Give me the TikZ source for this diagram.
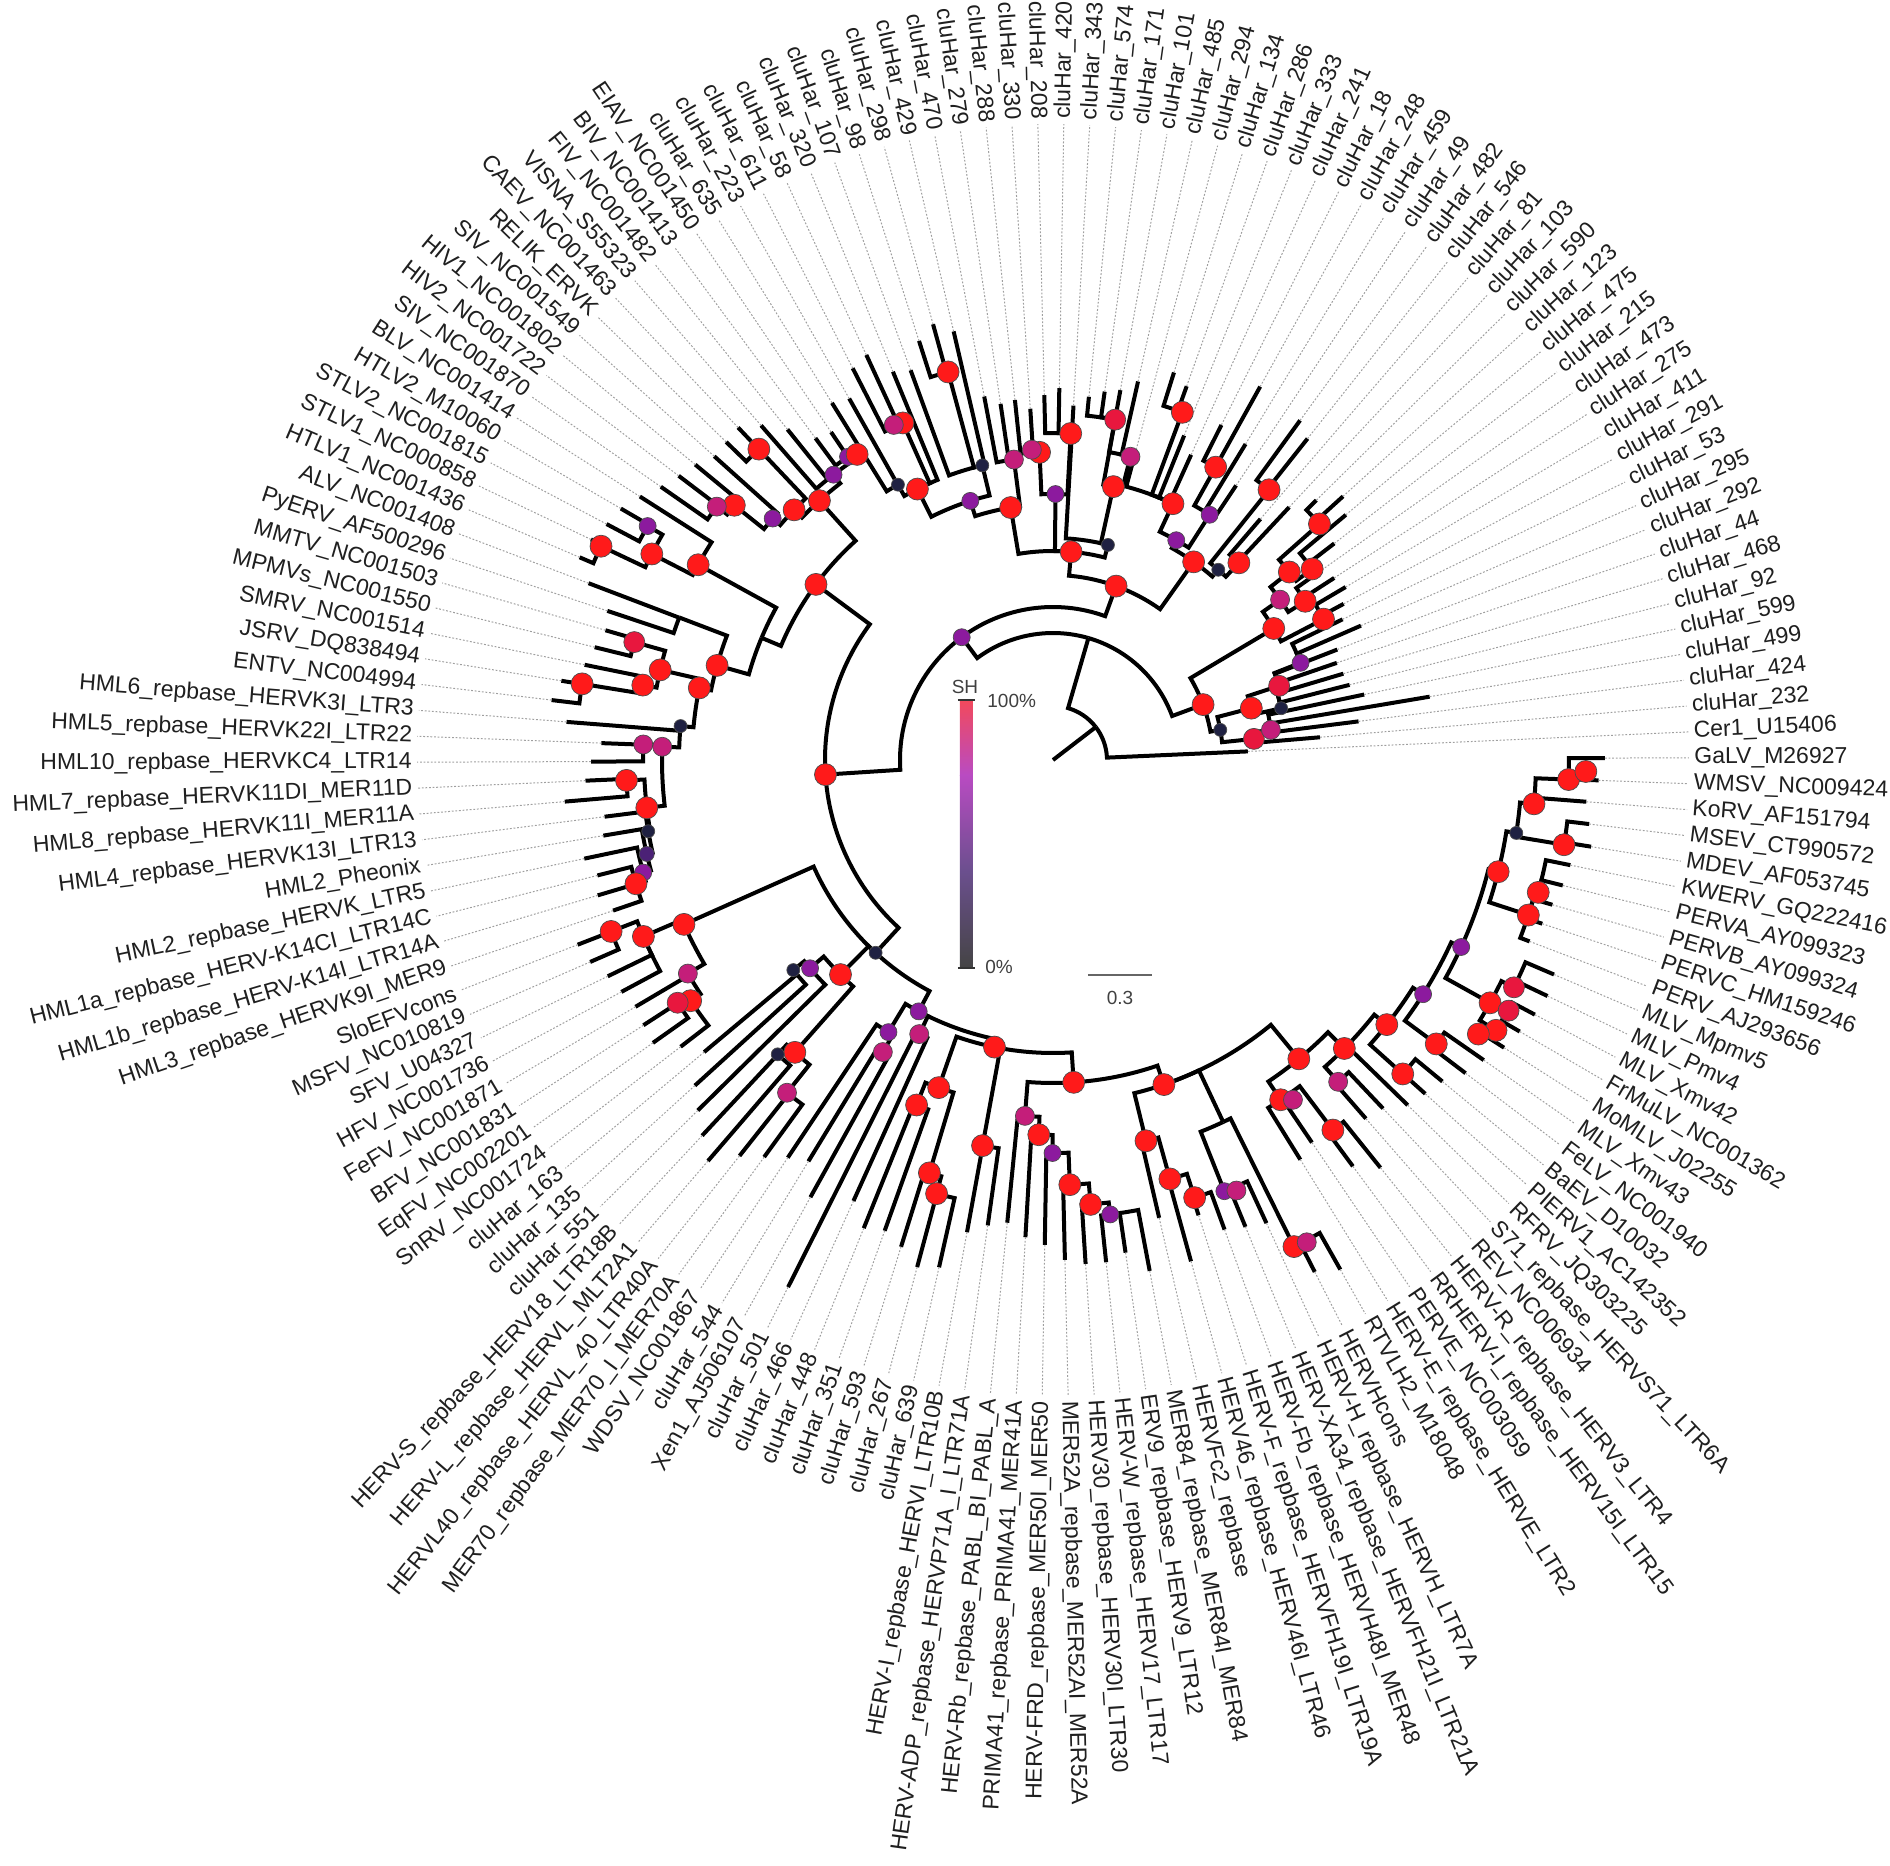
\documentclass[tikz,border=0pt]{standalone}
\usepackage{fontspec}
\setmainfont{Liberation Sans}
\pgfdeclarelayer{fg}
\pgfsetlayers{main,fg}
\definecolor{colRed}{HTML}{FF1A1A}
\definecolor{colCrim}{HTML}{E8173E}
\definecolor{colMag}{HTML}{C41E7A}
\definecolor{colPur}{HTML}{8C1A9E}
\definecolor{colDpur}{HTML}{4B2176}
\definecolor{colDark}{HTML}{1F2142}
\definecolor{barA}{HTML}{F2495C}
\definecolor{barB}{HTML}{B94BC2}
\definecolor{barC}{HTML}{6B4F8E}
\definecolor{barD}{HTML}{444444}
\tikzset{
 br/.style={line width=2pt, black, line join=miter},
 lead/.style={gray!75, line width=0.5pt, dash pattern=on 0.9pt off 0.9pt},
 lab/.style={inner sep=0pt, font=\fontsize{11.5}{13}\selectfont, text=black!88},
 leg/.style={inner sep=0pt, font=\fontsize{9.5}{11}\selectfont, text=black!75},
 dotbase/.style={circle, inner sep=0pt, draw=black!70, line width=0.35pt},
 cRed/.style={dotbase, fill=colRed, minimum size=11pt},
 cCrim/.style={dotbase, fill=colCrim, minimum size=10.5pt},
 cMag/.style={dotbase, fill=colMag, minimum size=9.5pt},
 cPur/.style={dotbase, fill=colPur, minimum size=8.5pt},
 cDpur/.style={dotbase, fill=colDpur, minimum size=7.5pt},
 cDark/.style={dotbase, fill=colDark, minimum size=6.5pt},
}
\newcount\dotn
\newcommand\TDot[3]{%
  \pgfmathsetmacro\qTq{-1-(#2-1)*2.3377}%
  \pgfmathsetmacro\qRq{#3*0.5}%
  \global\advance\dotn by 1\relax
  \begin{pgfonlayer}{fg}\node[#1] (dot\the\dotn) at (\qTq:\qRq pt) {};\end{pgfonlayer}}
\newcommand\TEdge[3]{%
  \edef\tpp{\csname tP#1\endcsname}\edef\tpr{\csname tR#1\endcsname}%
  \pgfmathsetmacro\qTa{-1-(\tpp-1)*2.3377}%
  \pgfmathsetmacro\qTb{-1-(#2-1)*2.3377}%
  \pgfmathsetmacro\qRa{\tpr*0.5}%
  \pgfmathsetmacro\qRb{#3*0.5}%
  \draw[br] (\qTa:\qRa pt) arc[start angle=\qTa, end angle=\qTb, radius=\qRa pt] -- (\qTb:\qRb pt);}
\newcommand\TNode[5][]{%
  \expandafter\xdef\csname tP#2\endcsname{#4}%
  \expandafter\xdef\csname tR#2\endcsname{#5}%
  \TEdge{#3}{#4}{#5}%
  \if\relax\detokenize{#1}\relax\else\TDot{#1}{#4}{#5}\fi}
% leaves sit 1.2 degrees counter-clockwise of the node grid
\newcommand\TLeaf[3]{%
  \pgfmathsetmacro\qPe{#2-0.5133}%
  \TEdge{#1}{\qPe}{#3}%
  \pgfmathsetmacro\qTe{-1-(\qPe-1)*2.3377}%
  \pgfmathsetmacro\qRe{#3*0.5}%
  \draw[lead] (\qTe:\qRe pt) -- (\qTe:318pt);}
\begin{document}
\begin{tikzpicture}
\useasboundingbox (-526.5pt,-552.5pt) rectangle (418.5pt,380pt);
% ---------- labels ----------
\foreach \txt [count=\i] in {GaLV\_M26927,WMSV\_NC009424,KoRV\_AF151794,MSEV\_CT990572,MDEV\_AF053745,KWERV\_GQ222416,PERVA\_AY099323,PERVB\_AY099324,PERVC\_HM159246,PERV\_AJ293656,MLV\_Mpmv5,MLV\_Pmv4,MLV\_Xmv42,FrMuLV\_NC001362,MoMLV\_J02255,MLV\_Xmv43,FeLV\_NC001940,BaEV\_D10032,PIERV1\_AC142352,RFRV\_JQ303225,S71\_repbase\_HERVS71\_LTR6A,REV\_NC006934,HERV-R\_repbase\_HERV3\_LTR4,RRHERV-I\_repbase\_HERV15I\_LTR15,PERVE\_NC003059,HERV-E\_repbase\_HERVE\_LTR2,RTVLH2\_M18048,HERVHcons,HERV-H\_repbase\_HERVH\_LTR7A,HERV-XA34\_repbase\_HERVFH21I\_LTR21A,HERV-Fb\_repbase\_HERVH48I\_MER48,HERV-F\_repbase\_HERVFH19I\_LTR19A,HERV46\_repbase\_HERV46I\_LTR46,HERVFc2\_repbase,MER84\_repbase\_MER84I\_MER84,ERV9\_repbase\_HERV9\_LTR12,HERV-W\_repbase\_HERV17\_LTR17,HERV30\_repbase\_HERV30I\_LTR30,MER52A\_repbase\_MER52AI\_MER52A,HERV-FRD\_repbase\_MER50I\_MER50,PRIMA41\_repbase\_PRIMA41\_MER41A,HERV-Rb\_repbase\_PABL\_BI\_PABL\_A,HERV-ADP\_repbase\_HERVP71A\_I\_LTR71A,HERV-I\_repbase\_HERVI\_LTR10B,cluHar\_639,cluHar\_267,cluHar\_593,cluHar\_351,cluHar\_448,cluHar\_466,cluHar\_501,Xen1\_AJ506107,cluHar\_544,WDSV\_NC001867,MER70\_repbase\_MER70\_I\_MER70A,HERVL40\_repbase\_HERVL\_40\_LTR40A,HERV-L\_repbase\_HERVL\_MLT2A1,HERV-S\_repbase\_HERV18\_LTR18B,cluHar\_551,cluHar\_135,cluHar\_163,SnRV\_NC001724,EqFV\_NC002201,BFV\_NC001831,FeFV\_NC001871,HFV\_NC001736,SFV\_U04327,MSFV\_NC010819,SloEFVcons,HML3\_repbase\_HERVK9I\_MER9,HML1b\_repbase\_HERV-K14I\_LTR14A,HML1a\_repbase\_HERV-K14CI\_LTR14C,HML2\_repbase\_HERVK\_LTR5,HML2\_Pheonix,HML4\_repbase\_HERVK13I\_LTR13,HML8\_repbase\_HERVK11I\_MER11A,HML7\_repbase\_HERVK11DI\_MER11D,HML10\_repbase\_HERVKC4\_LTR14,HML5\_repbase\_HERVK22I\_LTR22,HML6\_repbase\_HERVK3I\_LTR3,ENTV\_NC004994,JSRV\_DQ838494,SMRV\_NC001514,MPMVs\_NC001550,MMTV\_NC001503,PyERV\_AF500296,ALV\_NC001408,HTLV1\_NC001436,STLV1\_NC000858,STLV2\_NC001815,HTLV2\_M10060,BLV\_NC001414,SIV\_NC001870,HIV2\_NC001722,HIV1\_NC001802,SIV\_NC001549,RELIK\_ERVK,CAEV\_NC001463,VISNA\_S55323,FIV\_NC001482,BIV\_NC001413,EIAV\_NC001450,cluHar\_635,cluHar\_223,cluHar\_611,cluHar\_58,cluHar\_320,cluHar\_107,cluHar\_98,cluHar\_298,cluHar\_429,cluHar\_470,cluHar\_279,cluHar\_288,cluHar\_330,cluHar\_208,cluHar\_420,cluHar\_343,cluHar\_574,cluHar\_171,cluHar\_101,cluHar\_485,cluHar\_294,cluHar\_134,cluHar\_286,cluHar\_333,cluHar\_241,cluHar\_18,cluHar\_248,cluHar\_459,cluHar\_49,cluHar\_482,cluHar\_546,cluHar\_81,cluHar\_103,cluHar\_590,cluHar\_123,cluHar\_475,cluHar\_215,cluHar\_473,cluHar\_275,cluHar\_411,cluHar\_291,cluHar\_53,cluHar\_295,cluHar\_292,cluHar\_44,cluHar\_468,cluHar\_92,cluHar\_599,cluHar\_499,cluHar\_424,cluHar\_232,Cer1\_U15406}{%
  \pgfmathsetmacro\th{0.2-(\i-1)*2.3377}%
  \pgfmathtruncatemacro\rt{cos(\th)>0}%
  \ifnum\rt=1
    \node[lab, anchor=west, rotate=\th] (lab\i) at (\th:320.5pt) {\txt};
  \else
    \pgfmathsetmacro\thb{\th+180}%
    \node[lab, anchor=east, rotate=\thb] (lab\i) at (\th:320.5pt) {\txt};
  \fi}
% ---------- tree ----------
\expandafter\xdef\csname tProot\endcsname{138.5}
\expandafter\xdef\csname tRroot\endcsname{54}
\draw[br] ({-1-137.5*2.3377}:0pt) -- ({-1-137.5*2.3377}:27pt);
\TLeaf{root}{154}{195}
\TNode{Y}{root}{123}{127}
\TNode[cRed]{R}{Y}{145.9}{160}
\TNode[cPur]{Z}{Y}{100.4}{153}
% T clade
\TNode[cRed]{T}{Z}{124.6}{185}
\TNode[cRed]{T1}{T}{118.2}{209}
\TNode[cRed]{T1a}{T1}{112}{256}
\TNode[cPur]{T1d}{T1a}{108.5}{272}
\TNode[cRed]{T1f}{T1d}{104.7}{303}
\TNode[cDark]{T1h}{T1f}{103.5}{316}
\TLeaf{T1h}{103}{420}
\TLeaf{T1h}{104}{415}
\TNode[cRed]{T1j}{T1f}{105.8}{369}
\TDot{cMag}{105.2}{371}
\TLeaf{T1j}{105}{440}
\TLeaf{T1j}{106}{446}
\TLeaf{T1f}{107}{420}
\TNode[cDark]{T1g}{T1d}{110.3}{303}
\TLeaf{T1g}{108}{415}
\TNode[cRed]{T1l}{T1g}{109.6}{402}
\TLeaf{T1l}{109}{440}
\TLeaf{T1l}{110}{452}
\TLeaf{T1g}{111}{440}
\TNode[cMag]{T1e}{T1a}{112.9}{303}
\TLeaf{T1e}{112}{370}
\TLeaf{T1e}{113}{360}
\TNode[cPur]{T1b}{T1}{116.3}{266}
\TNode[cRed]{T1n}{T1b}{115}{308}
\TDot{cMag}{114.4}{311}
\TLeaf{T1n}{114}{362}
\TLeaf{T1n}{115}{352}
\TNode[cRed]{T1o}{T1b}{117.4}{327}
\TLeaf{T1o}{116}{365}
\TLeaf{T1o}{117}{372}
\TNode[cDark]{T1c}{T1}{122.2}{222}
\TLeaf{T1c}{118}{355}
\TNode[cRed]{T1p}{T1c}{121.4}{280}
\TNode[cCrim]{T1r}{T1p}{120.5}{346}
\TLeaf{T1r}{119}{365}
\TLeaf{T1r}{120}{372}
\TNode[cMag]{T1q}{T1p}{122.2}{313}
\TLeaf{T1q}{121}{376}
\TLeaf{T1q}{122}{388}
\TNode[cRed]{T2}{T}{131.2}{243}
\TNode[cPur]{T2a}{T2}{128.6}{252}
\TNode[cRed]{T2c}{T2a}{126.8}{283}
\TLeaf{T2c}{123}{307}
\TNode[cRed]{T2e}{T2c}{124.8}{371}
\TLeaf{T2e}{124}{406}
\TLeaf{T2e}{125}{397}
\TLeaf{T2c}{126}{350}
\TLeaf{T2c}{127}{335}
\TNode[cPur]{T2d}{T2a}{130}{291}
\TNode[cRed]{T2f}{T2d}{128.5}{335}
\TLeaf{T2f}{128}{375}
\TLeaf{T2f}{129}{427}
\TLeaf{T2d}{130}{370}
\TLeaf{T2d}{131}{330}
\TNode[cDark]{T2b}{T2}{133.6}{252}
\TNode[cRed]{T2g}{T2b}{132.6}{346}
\TLeaf{T2g}{132}{420}
\TLeaf{T2g}{133}{410}
\TNode[cRed]{T2h}{T2b}{134.6}{271}
\TLeaf{T2h}{134}{318}
\TLeaf{T2h}{135}{346}
% R clade
\TNode[cRed]{R1}{R}{141.4}{257}
\TNode[cMag]{R1a}{R1}{139.5}{278}
\TNode[cRed]{R1c}{R1a}{138.1}{302}
\TNode[cRed]{R1e}{R1c}{136.8}{356}
\TLeaf{R1e}{136}{370}
\TLeaf{R1e}{137}{392}
\TNode[cRed]{R1f}{R1c}{139}{322}
\TLeaf{R1f}{138}{382}
\TLeaf{R1f}{139}{355}
\TNode[cRed]{R1d}{R1a}{140.8}{298}
\TLeaf{R1d}{140}{315}
\TLeaf{R1d}{141}{335}
\TNode[cRed]{R1b}{R1}{142.8}{305}
\TLeaf{R1b}{142}{340}
\TLeaf{R1b}{143}{330}
\TNode[cDark]{R2}{R}{150.2}{170}
\TNode[cRed]{R2b}{R2}{148.3}{205}
\TNode[cCrim]{R2e}{R2b}{146.8}{238}
\TNode[cPur]{R2f}{R2e}{145.4}{266}
\TLeaf{R2f}{144}{322}
\TLeaf{R2f}{145}{336}
\TLeaf{R2e}{146}{305}
\TNode[cDark]{R2d}{R2b}{149.1}{234}
\TLeaf{R2d}{147}{300}
\TLeaf{R2d}{148}{303}
\TLeaf{R2d}{149}{306}
\TNode[cCrim]{R2a}{R2}{152}{202}
\TNode[cMag]{R2c}{R2a}{151.2}{220}
\TLeaf{R2c}{150}{318}
\TLeaf{R2c}{151}{382}
\TLeaf{R2a}{152}{308}
\TLeaf{R2a}{153}{268}
% B clade
\TNode[cRed]{B}{Z}{76}{228}
\TNode[cRed]{U}{B}{93.2}{295}
\TNode[cRed]{U1}{U}{98.1}{349}
\TNode[cRed]{U1a}{U1}{96.4}{360}
\TNode[cPur]{U1c}{U1a}{95}{370}
\TNode[cRed]{U1e}{U1c}{94.1}{408}
\TNode[cMag]{U1f}{U1e}{93.4}{421}
\TLeaf{U1f}{93}{478}
\TLeaf{U1f}{94}{470}
\TLeaf{U1e}{95}{464}
\TLeaf{U1c}{96}{455}
\TNode[cRed]{U1d}{U1a}{97.5}{428}
\TLeaf{U1d}{97}{456}
\TLeaf{U1d}{98}{458}
\TNode[cPur]{U1b}{U1}{100}{360}
\TLeaf{U1b}{99}{444}
\TLeaf{U1b}{100}{424}
\TNode[cPur]{U1g}{U1b}{101.5}{366}
\TDot{cRed}{102.1}{363}
\TLeaf{U1g}{101}{400}
\TLeaf{U1g}{102}{396}
\TNode{U2}{U}{87.3}{316}
\TNode[cRed]{D}{U2}{89.9}{405}
\TNode[cRed]{D1}{D}{89.2}{451}
\TNode[cRed]{D3}{D1}{88.4}{500}
\TLeaf{D3}{88}{515}
\TLeaf{D3}{89}{512}
\TNode[cPur]{D4}{D1}{90.4}{468}
\TLeaf{D4}{90}{505}
\TLeaf{D4}{91}{500}
\TLeaf{D}{92}{490}
\TNode[cRed]{BE}{U2}{84.3}{349}
\TNode{BE1}{BE}{86.5}{400}
\TLeaf{BE1}{86}{470}
\TLeaf{BE1}{87}{497}
\TNode[cRed]{BE2}{BE}{82.5}{361}
\TNode[cRed]{BE3}{BE2}{83.1}{403}
\TNode[cRed]{BE4}{BE3}{82}{417}
\TNode[cRed]{BE6}{BE4}{81.5}{477}
\TLeaf{BE6}{81}{505}
\TLeaf{BE6}{82}{498}
\TLeaf{BE4}{83}{478}
\TNode[cCrim]{BE5}{BE3}{84.3}{435}
\TLeaf{BE5}{84}{472}
\TLeaf{BE5}{85}{466}
\TNode[cDark]{H0}{BE2}{79.8}{374}
\TLeaf{H0}{80}{488}
\TNode[cMag]{H1}{H0}{78.4}{391}
\TNode[cMag]{H2}{H1}{78.5}{410}
\TLeaf{H2}{78}{462}
\TLeaf{H2}{79}{452}
\TNode[cRed]{H3}{H1}{74.7}{409}
\TNode[cRed]{H4}{H3}{76.4}{427}
\TLeaf{H4}{76}{490}
\TLeaf{H4}{77}{468}
\TNode[cDark]{H5}{H3}{73.3}{411}
\TLeaf{H5}{75}{452}
\TNode[cDpur]{H6}{H5}{72}{417}
\TLeaf{H6}{74}{456}
\TNode[cPur]{H7}{H6}{71}{425}
\TLeaf{H7}{73}{479}
\TNode[cRed]{H8}{H7}{70.5}{435}
\TLeaf{H8}{70}{465}
\TLeaf{H8}{71}{475}
\TLeaf{H8}{72}{470}
% L clade
\TNode[cDark]{L}{B}{57.3}{262}
\TNode[cRed]{S}{L}{67.3}{404}
\TNode[cRed]{S1}{S}{67.6}{446}
\TNode[cRed]{S3}{S1}{68.5}{474}
\TLeaf{S3}{68}{505}
\TLeaf{S3}{69}{510}
\TLeaf{S1}{66}{490}
\TLeaf{S1}{67}{495}
\TNode[cMag]{S2}{S}{64.6}{423}
\TLeaf{S2}{65}{485}
\TNode[cRed]{S4}{S2}{63.2}{435}
\TLeaf{S4}{62}{470}
\TNode[cCrim]{S5}{S4}{63.5}{447}
\TLeaf{S5}{63}{490}
\TLeaf{S5}{64}{488}
\TNode[cRed]{HL}{L}{58.2}{302}
\TNode[cPur]{HLa}{HL}{60.2}{320}
\TNode[cDark]{HLc}{HLa}{60.9}{334}
\TLeaf{HLc}{60}{484}
\TLeaf{HLc}{61}{455}
\TLeaf{HLa}{59}{499}
\TNode[cRed]{HLb}{HL}{56.8}{390}
\TNode[cDark]{HLf}{HLb}{57.5}{403}
\TLeaf{HLf}{57}{529}
\TLeaf{HLf}{58}{514}
\TNode[cMag]{HLg}{HLb}{55.6}{426}
\TLeaf{HLg}{55}{491}
\TLeaf{HLg}{56}{505}
\TNode[cPur]{L2}{L}{51.1}{285}
\TNode[cPur]{L2a}{L2}{52.4}{318}
\TNode[cMag]{L2c}{L2a}{52}{338}
\TLeaf{L2c}{52}{500}
\TLeaf{L2c}{53}{470}
\TLeaf{L2a}{54}{478}
\TNode[cMag]{L2b}{L2}{50.2}{305}
\TLeaf{L2b}{50}{484}
\TLeaf{L2b}{51}{590}
\TNode[cRed]{L3}{L2}{44}{293}
\TNode[cRed]{L3a}{L3}{47.3}{347}
\TNode[cRed]{L3c}{L3a}{48.3}{371}
\TLeaf{L3c}{48}{500}
\TLeaf{L3c}{49}{505}
\TNode[cRed]{L3d}{L3a}{46.2}{431}
\TNode[cRed]{L3e}{L3d}{45.5}{449}
\TLeaf{L3e}{45}{520}
\TLeaf{L3e}{46}{525}
\TLeaf{L3d}{47}{510}
\TNode[cRed]{L3b}{L3}{43.5}{392}
\TLeaf{L3b}{43}{470}
\TLeaf{L3b}{44}{480}
\TNode[cRed]{L4}{L3}{37.5}{323}
\TNode[cMag]{L4a}{L4}{41}{357}
\TLeaf{L4a}{42}{465}
\TNode[cRed]{L4b}{L4a}{40}{375}
\TLeaf{L4b}{41}{478}
\TNode[cPur]{L4c}{L4b}{39.1}{393}
\TLeaf{L4c}{40}{485}
\TNode[cRed]{L4d}{L4c}{38.1}{425}
\TLeaf{L4d}{39}{500}
\TNode[cRed]{L4e}{L4d}{37}{446}
\TLeaf{L4e}{38}{505}
\TNode[cPur]{L4f}{L4e}{36}{458}
\TLeaf{L4f}{35}{520}
\TLeaf{L4f}{36}{498}
\TLeaf{L4f}{37}{505}
\TNode[cRed]{L5}{L4}{31}{343}
\TNode[cRed]{L5a}{L5}{33.2}{392}
\TLeaf{L5a}{34}{470}
\TNode[cRed]{L5c}{L5a}{32.4}{435}
\TLeaf{L5c}{33}{520}
\TNode[cRed]{L5d}{L5c}{31.4}{460}
\TLeaf{L5d}{31}{500}
\TLeaf{L5d}{32}{478}
\TNode{L5b}{L5}{28.3}{400}
\TNode[cRed]{L5f}{L5b}{27.8}{543}
\TDot{cMag}{27.2}{545}
\TLeaf{L5f}{27}{585}
\TLeaf{L5f}{28}{575}
\TNode[cPur]{L5e}{L5b}{29.8}{464}
\TDot{cMag}{29.2}{468}
\TLeaf{L5e}{29}{510}
\TLeaf{L5e}{30}{505}
\TNode[cRed]{L6}{L5}{22.2}{387}
\TNode[cRed]{L6a}{L6}{24.6}{409}
\TDot{cMag}{24}{416}
\TNode[cRed]{L6b}{L6a}{23.2}{464}
\TLeaf{L6b}{23}{523}
\TLeaf{L6b}{24}{505}
\TLeaf{L6a}{25}{462}
\TLeaf{L6a}{26}{470}
\TNode[cRed]{L7}{L6}{19.7}{410}
\TNode[cMag]{L7a}{L7}{21.3}{430}
\TLeaf{L7a}{21}{480}
\TLeaf{L7a}{22}{476}
\TLeaf{L7}{20}{495}
\TNode[cRed]{L8}{L7}{17}{426}
\TNode[cRed]{L8a}{L8}{18.5}{470}
\TLeaf{L8a}{18}{505}
\TLeaf{L8a}{19}{500}
\TNode[cPur]{L9}{L8}{14.4}{438}
\TNode[cRed]{L9a}{L9}{16.2}{477}
\TLeaf{L9a}{16}{525}
\TLeaf{L9a}{17}{518}
\TNode[cPur]{L10}{L9}{11.1}{449}
\TNode[cRed]{L9b}{L10}{13}{500}
\TNode[cCrim]{L9c}{L9b}{11.8}{514}
\TLeaf{L9c}{11}{545}
\TLeaf{L9c}{12}{548}
\TNode[cRed]{L9d}{L9b}{14}{519}
\TDot{cRed}{14.6}{506}
\TDot{cCrim}{12.9}{520}
\TLeaf{L9d}{13}{545}
\TLeaf{L9d}{14}{540}
\TLeaf{L9d}{15}{535}
\TNode[cRed]{L11}{L10}{6.6}{459}
\TNode[cDark]{L12}{L11}{4.4}{469}
\TNode[cRed]{L12a}{L12}{2.8}{483}
\TNode[cRed]{L12b}{L12a}{1.5}{516}
\TDot{cRed}{1.1}{533}
\TLeaf{L12b}{1}{552}
\TLeaf{L12b}{2}{546}
\TLeaf{L12a}{3}{535}
\TNode[cRed]{L12c}{L12}{4.6}{518}
\TLeaf{L12c}{4}{540}
\TLeaf{L12c}{5}{545}
\TNode[cRed]{L13}{L11}{8.3}{500}
\TNode[cRed]{L13a}{L13}{7.1}{503}
\TLeaf{L13a}{6}{528}
\TLeaf{L13a}{7}{525}
\TLeaf{L13}{8}{520}
\TLeaf{L13}{9}{516}
\TLeaf{L13}{10}{510}
% ---------- legend ----------
\shade[top color=barA, bottom color=barB] (-46.5pt,30pt) rectangle (-40pt,-7.5pt);
\shade[top color=barB, bottom color=barD, middle color=barC] (-46.5pt,-7.5pt) rectangle (-40pt,-104pt);
\draw[black!80, line width=0.9pt] (-47.5pt,30pt) -- (-39pt,30pt);
\draw[black!80, line width=0.9pt] (-47.5pt,-104pt) -- (-39pt,-104pt);
\node[leg] (shlab) at (-44pt,36.5pt) {SH};
\node[leg, anchor=west] (hilab) at (-33pt,29.5pt) {100\%};
\node[leg, anchor=west] (lolab) at (-34pt,-103.3pt) {0\%};
\draw[gray!80!black, line width=1.2pt] (17.5pt,-107.5pt) -- (49.5pt,-107.5pt);
\node[leg] (sclab) at (33.5pt,-119pt) {0.3};
\end{tikzpicture}
\end{document}
